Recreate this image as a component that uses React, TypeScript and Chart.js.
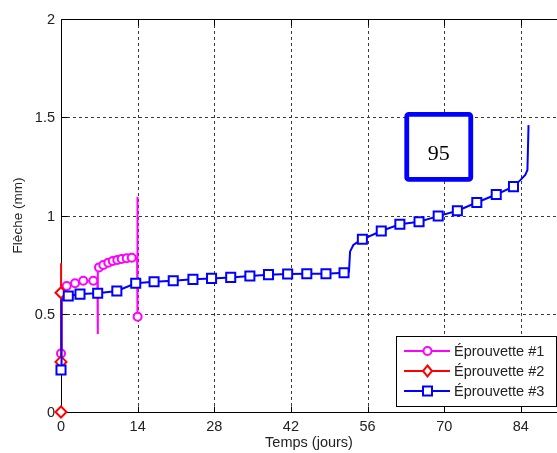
import React, { useEffect, useRef } from 'react';
import { Chart, registerables } from 'chart.js';

Chart.register(...registerables);

// ---- axis ticks / labels ----
const xTicks = [0, 14, 28, 42, 56, 70, 84];
const yTicks = [0, 0.5, 1, 1.5, 2];
const xMax = 90.6;
const yMax = 2;
const xTitle = 'Temps (jours)';
const yTitle = 'Flèche (mm)';
const seriesNames = ['Éprouvette #1', 'Éprouvette #2', 'Éprouvette #3'];
const annotationText = '95';
const annotationDay = 69.0;
const annotationDefl = 1.349;

// ---- Éprouvette #1 (magenta) ----
const days1 = [0, 0.1, 0.3, 1.04, 2.56, 4.07, 5.9, 6.65, 6.7, 6.75, 6.94, 7.73, 8.64, 9.45, 10.29, 11.09, 12.0, 12.92, 13.9, 13.95, 14.0];
const defl1 = [0.298, 0.6, 0.62, 0.641, 0.655, 0.668, 0.668, 0.67, 0.397, 0.72, 0.736, 0.748, 0.76, 0.768, 0.774, 0.779, 0.782, 0.785, 0.785, 1.096, 0.485];
const mark1 = [1, 0, 0, 1, 1, 1, 1, 0, 0, 0, 1, 1, 1, 1, 1, 1, 1, 1, 0, 0, 1];

// ---- Éprouvette #2 (red) ----
const days2 = [0, 0, 0, 0, 0.03];
const defl2 = [0, null, 0.255, 0.607, 0.757];
const mark2 = [1, 0, 1, 1, 0];

// ---- Éprouvette #3 (blue) ----
const days3 = [0, 0.05, 0.15, 1.33, 3.47, 6.7, 10.2, 13.65, 17.0, 20.5, 24.1, 27.5, 31.0, 34.5, 37.9, 41.4, 44.9, 48.4, 51.7, 52.6, 52.8, 53.4, 54.3, 55.05, 58.5, 61.9, 65.4, 68.9, 72.4, 75.95, 79.5, 82.65, 83.9, 84.8, 85.2, 85.4];
const defl3 = [0.214, 0.5, 0.57, 0.59, 0.6, 0.604, 0.616, 0.655, 0.663, 0.668, 0.675, 0.68, 0.685, 0.692, 0.699, 0.702, 0.704, 0.704, 0.709, 0.714, 0.816, 0.85, 0.867, 0.879, 0.921, 0.955, 0.968, 0.997, 1.024, 1.066, 1.107, 1.147, 1.18, 1.206, 1.232, 1.46];
const mark3 = [1, 0, 0, 1, 1, 1, 1, 1, 1, 1, 1, 1, 1, 1, 1, 1, 1, 1, 1, 0, 0, 0, 0, 1, 1, 1, 1, 1, 1, 1, 1, 1, 0, 0, 0, 0];

const colors = ['#ff00ff', '#ff0000', '#0000ff'];
const FONT = "'Liberation Sans', Arial, sans-serif";

function toPoints(xs: number[], ys: (number | null)[]) {
  return xs.map((x, i) => ({ x, y: ys[i] }));
}

function drawMarker(ctx: CanvasRenderingContext2D, style: string, x: number, y: number, color: string) {
  ctx.save();
  ctx.fillStyle = '#ffffff';
  ctx.strokeStyle = color;
  ctx.lineWidth = 2;
  ctx.beginPath();
  if (style === 'circle') {
    ctx.arc(x, y, 4, 0, Math.PI * 2);
  } else if (style === 'rectRot') {
    ctx.moveTo(x, y - 5.5);
    ctx.lineTo(x + 4.5, y);
    ctx.lineTo(x, y + 5.5);
    ctx.lineTo(x - 4.5, y);
    ctx.closePath();
  } else {
    ctx.rect(x - 4.5, y - 4.5, 9, 9);
  }
  ctx.fill();
  ctx.stroke();
  ctx.restore();
}

const framePlugin = {
  id: 'matlabFrame',
  beforeDatasetsDraw(chart: any) {
    const { ctx, chartArea: a, scales } = chart;
    const xs = scales.x, ys = scales.y;
    ctx.save();
    // dashed grid
    ctx.strokeStyle = '#3a3a3a';
    ctx.lineWidth = 1;
    ctx.setLineDash([3, 3]);
    xTicks.forEach((v) => {
      if (v === 0) return;
      const px = Math.round(xs.getPixelForValue(v)) + 0.5;
      ctx.beginPath();
      ctx.moveTo(px, a.top);
      ctx.lineTo(px, a.bottom);
      ctx.stroke();
    });
    yTicks.forEach((v) => {
      if (v === 0 || v === yMax) return;
      const py = Math.round(ys.getPixelForValue(v)) + 0.5;
      ctx.beginPath();
      ctx.moveTo(a.left, py);
      ctx.lineTo(a.right, py);
      ctx.stroke();
    });
    ctx.setLineDash([]);
    // axes
    ctx.strokeStyle = '#000';
    const L = Math.round(a.left) + 0.5, T = Math.round(a.top) + 0.5, B = Math.round(a.bottom) + 0.5;
    ctx.beginPath();
    ctx.moveTo(a.right, T);
    ctx.lineTo(L, T);
    ctx.lineTo(L, B);
    ctx.lineTo(a.right, B);
    ctx.stroke();
    // inward ticks
    const tl = 6;
    xTicks.forEach((v) => {
      const px = Math.round(xs.getPixelForValue(v)) + 0.5;
      ctx.beginPath();
      ctx.moveTo(px, B);
      ctx.lineTo(px, B - tl);
      ctx.moveTo(px, T);
      ctx.lineTo(px, T + tl);
      ctx.stroke();
    });
    yTicks.forEach((v) => {
      const py = Math.round(ys.getPixelForValue(v)) + 0.5;
      ctx.beginPath();
      ctx.moveTo(L, py);
      ctx.lineTo(L + tl, py);
      ctx.stroke();
    });
    // tick labels
    ctx.fillStyle = '#222';
    ctx.font = `14.5px ${FONT}`;
    ctx.textAlign = 'center';
    ctx.textBaseline = 'middle';
    xTicks.forEach((v) => {
      ctx.fillText(String(v), xs.getPixelForValue(v), a.bottom + 15);
    });
    ctx.textAlign = 'right';
    yTicks.forEach((v) => {
      ctx.fillText(String(v), a.left - 6, ys.getPixelForValue(v) + 1);
    });
    // axis titles
    ctx.textAlign = 'center';
    ctx.font = `14.5px ${FONT}`;
    ctx.fillText(xTitle, (a.left + a.right) / 2, a.bottom + 31);
    ctx.save();
    ctx.translate(18, (a.top + a.bottom) / 2);
    ctx.rotate(-Math.PI / 2);
    ctx.font = `13.5px ${FONT}`;
    ctx.fillText(yTitle, 0, 0);
    ctx.restore();
    ctx.restore();
  },
  afterDraw(chart: any) {
    const { ctx, scales } = chart;
    ctx.save();
    // annotation box
    const cx = scales.x.getPixelForValue(annotationDay);
    const cy = scales.y.getPixelForValue(annotationDefl);
    const w = 64, h = 65, r = 2;
    ctx.beginPath();
    ctx.roundRect(cx - w / 2, cy - h / 2, w, h, r);
    ctx.fillStyle = '#fff';
    ctx.fill();
    ctx.lineWidth = 4.8;
    ctx.strokeStyle = '#0000ff';
    ctx.stroke();
    ctx.fillStyle = '#000';
    ctx.font = "22px 'Liberation Serif', 'Times New Roman', serif";
    ctx.textAlign = 'center';
    ctx.textBaseline = 'alphabetic';
    ctx.fillText(annotationText, cx, cy + 13);

    // legend
    const lx = 396.5, ly = 336.5, lw = 160, lh = 70;
    ctx.fillStyle = '#fff';
    ctx.fillRect(lx, ly, lw, lh);
    ctx.strokeStyle = '#000';
    ctx.lineWidth = 1;
    ctx.strokeRect(lx, ly, lw, lh);
    const styles = ['circle', 'rectRot', 'rect'];
    const rows = [351, 371, 391];
    seriesNames.forEach((name, i) => {
      const y = rows[i];
      ctx.strokeStyle = colors[i];
      ctx.lineWidth = 2;
      ctx.beginPath();
      ctx.moveTo(404, y);
      ctx.lineTo(450, y);
      ctx.stroke();
      drawMarker(ctx, styles[i], 427.5, y, colors[i]);
      ctx.fillStyle = '#222';
      ctx.font = `14.5px ${FONT}`;
      ctx.textAlign = 'left';
      ctx.textBaseline = 'middle';
      ctx.fillText(name, 454, y + 1);
    });
    ctx.restore();
  },
};

export default function App() {
  const ref = useRef<HTMLCanvasElement>(null);
  useEffect(() => {
    if (!ref.current) return;
    const mk = (marks: number[], r: number) => (c: any) => (marks[c.dataIndex] ? r : 0);
    const chart = new Chart(ref.current, {
      type: 'line',
      data: {
        datasets: [
          {
            label: seriesNames[0],
            data: toPoints(days1, defl1),
            borderColor: colors[0],
            backgroundColor: '#ffffff',
            borderWidth: 2,
            pointStyle: 'circle',
            pointRadius: mk(mark1, 4),
            pointBorderWidth: 2,
            pointBorderColor: colors[0],
            pointBackgroundColor: '#ffffff',
            clip: false,
            order: 3,
          },
          {
            label: seriesNames[1],
            data: toPoints(days2, defl2),
            borderColor: colors[1],
            backgroundColor: '#ffffff',
            borderWidth: 2,
            pointStyle: 'rectRot',
            pointRadius: mk(mark2, 5.5),
            pointBorderWidth: 2,
            pointBorderColor: colors[1],
            pointBackgroundColor: '#ffffff',
            spanGaps: false,
            clip: false,
            order: 2,
          },
          {
            label: seriesNames[2],
            data: toPoints(days3, defl3),
            borderColor: colors[2],
            backgroundColor: '#ffffff',
            borderWidth: 2,
            pointStyle: 'rect',
            pointRadius: mk(mark3, 6.4),
            pointBorderWidth: 2,
            pointBorderColor: colors[2],
            pointBackgroundColor: '#ffffff',
            clip: false,
            order: 1,
          },
        ],
      },
      options: {
        animation: false,
        responsive: false,
        events: [],
        layout: { autoPadding: false, padding: { top: 19, left: 0, right: 0, bottom: 0 } },
        plugins: { legend: { display: false }, tooltip: { enabled: false } },
        elements: { line: { tension: 0 } },
        scales: {
          x: {
            type: 'linear',
            min: 0,
            max: xMax,
            grid: { display: false },
            border: { display: false },
            ticks: { display: false },
            afterFit: (s: any) => { s.height = 41; },
          },
          y: {
            type: 'linear',
            min: 0,
            max: yMax,
            grid: { display: false },
            border: { display: false },
            ticks: { display: false },
            afterFit: (s: any) => { s.width = 61; },
          },
        },
      },
      plugins: [framePlugin],
    } as any);
    return () => chart.destroy();
  }, []);
  return (
    <div style={{ position: 'absolute', left: 0, top: 0, width: 557, height: 453, background: '#fff' }}>
      <canvas ref={ref} width={557} height={453} style={{ display: 'block' }} />
    </div>
  );
}
